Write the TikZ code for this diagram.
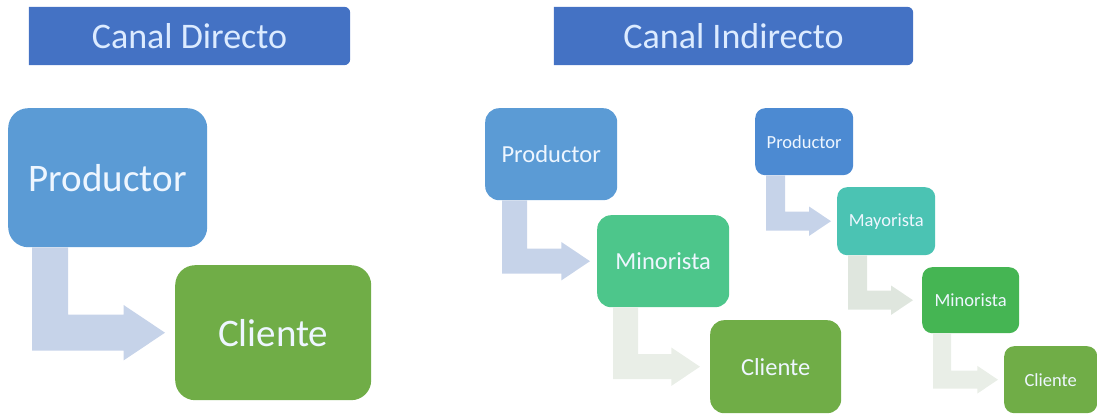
\documentclass[tikz,border=0pt]{standalone}
\usepackage{fontspec}
\setmainfont{Carlito}
\usetikzlibrary{calc,backgrounds}

\definecolor{titleblue}{HTML}{4472C4}
\definecolor{titletext}{HTML}{DCEBFF}
\definecolor{boxtext}{HTML}{EEF6FF}
\definecolor{prodblue}{HTML}{5B9BD5}
\definecolor{prodblueB}{HTML}{4C8AD2}
\definecolor{mintgreen}{HTML}{4DC68B}
\definecolor{tealgreen}{HTML}{4BC3B3}
\definecolor{midgreen}{HTML}{45B553}
\definecolor{leafgreen}{HTML}{70AD47}
\definecolor{arrowA}{HTML}{C6D3E9}
\definecolor{arrowB}{HTML}{DFE6DE}
\definecolor{arrowC}{HTML}{E9EEE7}

\tikzset{
  titlebox/.style={rectangle, inner sep=0pt, text=titletext,
    font=\fontsize{36}{36}\selectfont, minimum height=58pt},
  box/.style={rectangle, anchor=north west, inner sep=0pt, text=boxtext, align=center},
  bigbox/.style={box, rounded corners=20pt, font=\fontsize{39}{39}\selectfont},
  midbox/.style={box, rounded corners=14pt, font=\fontsize{24.5}{24.5}\selectfont},
  smallbox/.style={box, rounded corners=10pt, font=\fontsize{18.5}{18.5}\selectfont},
}

% bent arrow from the bottom of #1 to the left side of #2
% #3 stem offset from the left edge of #1, #4 thickness, #5 gap before #2, #6 colour
\newcommand\bentarrow[6]{%
  \coordinate (ba-s) at ($(#1.south west)+(#3,0)$);
  \coordinate (ba-r) at ($(ba-s)+(#4,0)$);
  \coordinate (ba-t) at ($(#2.west)+(-#5,0)$);
  \coordinate (ba-u) at ($(ba-t)+(0,-#4/2)$);
  \coordinate (ba-d) at ($(ba-t)+(0,#4/2)$);
  \coordinate (ba-hb) at ($(ba-t)+(-1.15*#4,0)$);
  \coordinate (ba-hu) at ($(ba-hb)+(0,-0.77*#4)$);
  \coordinate (ba-hd) at ($(ba-hb)+(0,0.77*#4)$);
  \fill[#6] (ba-s) -- (ba-r) -- (ba-r |- ba-u) -- (ba-hb |- ba-u) -- (ba-hu)
    -- (ba-t) -- (ba-hd) -- (ba-hb |- ba-d) -- (ba-s |- ba-d) -- cycle;
}

\begin{document}
\begin{tikzpicture}[x=1pt,y=-1pt]
\useasboundingbox (0,0) rectangle (1097,414);

% headings
\node[titlebox, minimum width=321pt] (tdir) at (189.5,36) {Canal Directo};
\node[titlebox, minimum width=359pt] (tind) at (733.5,36) {Canal Indirecto};
\begin{scope}[on background layer]
  \foreach \t in {tdir,tind}
    \fill[titleblue] (\t.north west) [rounded corners=6pt] -- (\t.north east)
      -- (\t.south east) [sharp corners] -- (\t.south west) -- cycle;
\end{scope}

% direct channel
\node[bigbox, fill=prodblue, minimum width=199pt, minimum height=139pt] (p1) at (8,108) {Productor};
\node[bigbox, fill=leafgreen, minimum width=196pt, minimum height=135pt] (c1) at (175,265) {Cliente};
\bentarrow{p1}{c1}{24}{36}{10}{arrowA}

% indirect channel, one intermediary
\node[midbox, fill=prodblue, minimum width=132pt, minimum height=92pt] (p2) at (485,108) {Productor};
\node[midbox, fill=mintgreen, minimum width=132pt, minimum height=92pt] (m2) at (597,215) {Minorista};
\node[midbox, fill=leafgreen, minimum width=131pt, minimum height=93pt] (c2) at (710,320) {Cliente};
\bentarrow{p2}{m2}{17}{25}{7}{arrowA}
\bentarrow{m2}{c2}{16}{25}{10}{arrowC}

% indirect channel, two intermediaries
\node[smallbox, fill=prodblueB, minimum width=98pt, minimum height=67pt] (p3) at (755,108) {Productor};
\node[smallbox, fill=tealgreen, minimum width=98pt, minimum height=68pt] (y3) at (837,187) {Mayorista};
\node[smallbox, fill=midgreen, minimum width=97pt, minimum height=66pt] (m3) at (922,267) {Minorista};
\node[smallbox, fill=leafgreen, minimum width=93pt, minimum height=67pt] (c3) at (1004,346) {Cliente};
\bentarrow{p3}{y3}{11}{19}{6}{arrowA}
\bentarrow{y3}{m3}{11}{19}{9}{arrowB}
\bentarrow{m3}{c3}{11}{18}{6}{arrowC}
\end{tikzpicture}
\end{document}
